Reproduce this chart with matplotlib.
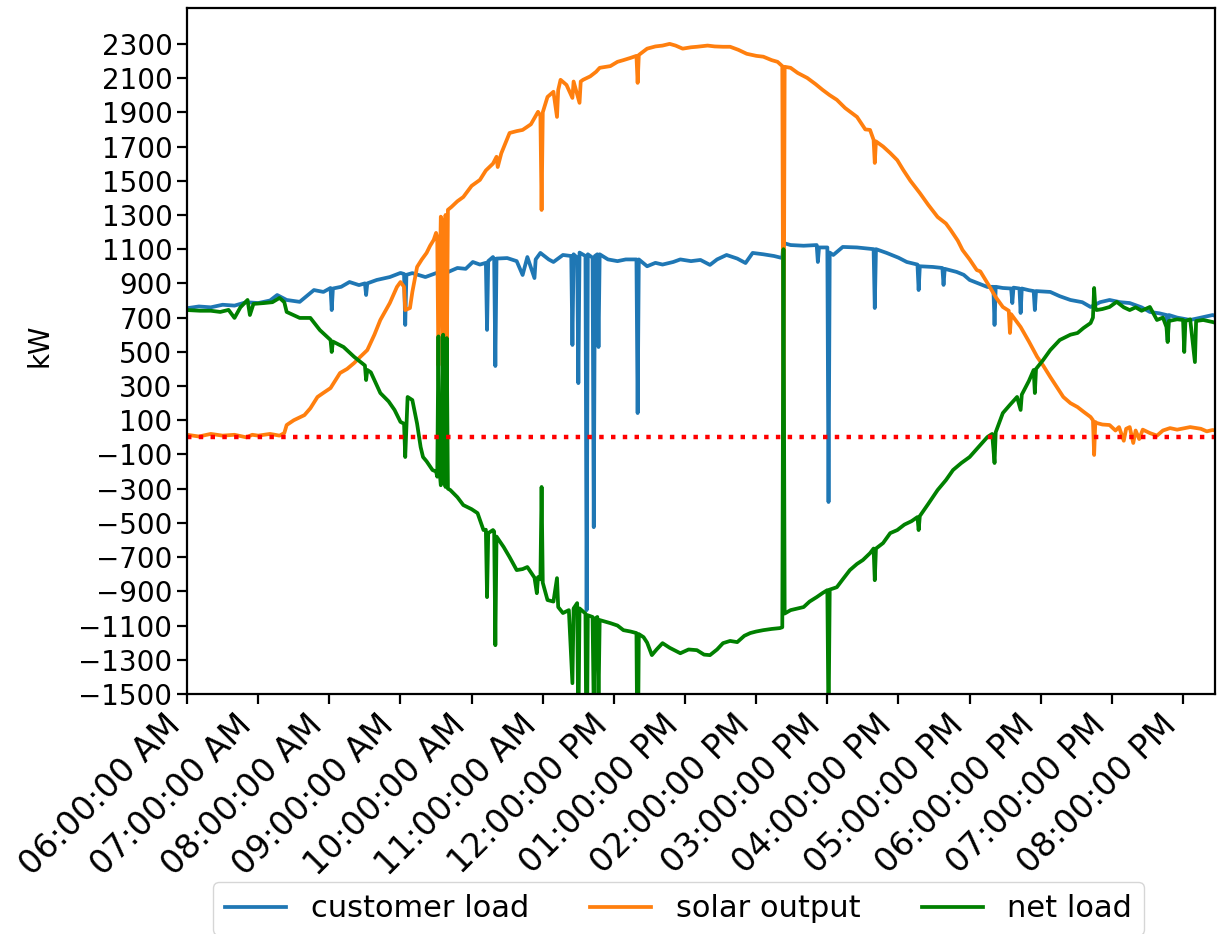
import datetime as dt
import matplotlib
matplotlib.use("Agg")
import matplotlib.pyplot as plt
import matplotlib.dates as mdates

# minutes after 06:00 and kW
load_points = [
    (0, 755), (10, 765), (20, 760), (30, 775), (40, 770), (50, 790), (60, 785), (70, 800),
    (76, 832), (84, 803), (95, 792), (107, 861), (115, 850), (121, 873), (122, 744), (123, 870),
    (130, 880), (137, 908), (145, 890), (150, 900), (151, 832), (152, 900), (160, 920), (171, 937),
    (180, 961), (183, 955), (184, 657), (185, 950), (190, 960), (201, 937), (210, 960), (218, 960),
    (228, 990), (235, 985), (241, 1025), (247, 1010), (252, 1020), (253, 628), (254, 1030),
    (258, 1054), (259, 1040), (260, 417), (261, 1045), (270, 1048), (278, 1030), (283, 949),
    (287, 1054), (293, 931), (294, 1040), (298, 1078), (305, 1040), (309, 1025), (317, 1066),
    (324, 1060), (325, 540), (326, 1070), (329, 1050), (330, 317), (331, 1080), (336, 1060),
    (337, -1010), (338, 1070), (342, 1050), (343, -525), (344, 1060), (346, 1070), (347, 528),
    (348, 1070), (355, 1040), (363, 1030), (370, 1040), (379, 1040), (380, 142), (381, 1040),
    (388, 1000), (395, 1020), (401, 1010), (410, 1025), (416, 1040), (425, 1030), (433, 1037),
    (441, 1008), (447, 1040), (455, 1066), (464, 1045), (471, 1019), (477, 1078), (486, 1070),
    (495, 1060), (502, 1048), (503, 1136), (509, 1124), (520, 1120), (531, 1124), (532, 1025),
    (533, 1110), (540, 1110), (541, -378), (542, 1080), (545, 1066), (553, 1113), (565, 1110),
    (572, 1105), (579, 1100), (580, 756), (581, 1100), (590, 1078), (600, 1050), (607, 1025),
    (616, 1010), (617, 861), (618, 1000), (629, 996), (637, 990), (638, 891), (639, 985),
    (649, 967), (655, 950), (660, 920), (669, 895), (675, 879), (680, 880), (681, 657), (682, 880),
    (688, 873), (695, 870), (696, 785), (697, 875), (702, 870), (703, 727), (704, 870), (710, 860),
    (714, 855), (715, 744), (716, 855), (728, 850), (736, 825), (745, 803), (755, 790), (762, 762),
    (770, 790), (778, 803), (787, 790), (795, 785), (805, 760), (812, 733), (820, 725), (826, 715),
    (827, 569), (828, 715), (835, 700), (846, 686), (855, 700), (865, 715), (867, 710),
]

solar_points = [
    (0, 15), (10, 5), (20, 20), (30, 10), (40, 15), (50, 0), (55, 15), (60, 10), (70, 20), (78, 10),
    (82, 25), (84, 72), (90, 100), (99, 130), (104, 170), (110, 236), (115, 260), (121, 288),
    (129, 376), (135, 400), (141, 435), (146, 470), (152, 510), (158, 600), (163, 686), (171, 785),
    (177, 879), (180, 908), (183, 880), (184, 744), (188, 756), (190, 850), (194, 996), (198, 1040),
    (202, 1078), (205, 1120), (208, 1154), (210, 1195), (211, 1170), (212, 420), (214, 1290),
    (215, 1270), (216, 380), (218, 1300), (219, 350), (220, 1330), (223, 1347), (228, 1380),
    (233, 1405), (240, 1470), (247, 1505), (252, 1560), (258, 1600), (261, 1640), (262, 1580),
    (265, 1660), (272, 1779), (278, 1790), (283, 1797), (290, 1830), (296, 1903), (298, 1880),
    (299, 1329), (300, 1900), (304, 1990), (309, 2020), (312, 1873), (313, 2030), (315, 2090),
    (320, 2060), (325, 1984), (326, 2080), (331, 1955), (332, 2080), (334, 2090), (340, 2110),
    (345, 2137), (348, 2160), (357, 2170), (363, 2195), (368, 2205), (374, 2218), (379, 2230),
    (380, 2072), (381, 2235), (388, 2272), (395, 2285), (401, 2290), (407, 2300), (412, 2290),
    (418, 2272), (425, 2280), (430, 2283), (439, 2290), (445, 2285), (452, 2283), (458, 2283),
    (465, 2265), (472, 2242), (480, 2230), (486, 2225), (493, 2205), (498, 2195), (502, 2170),
    (503, 0), (504, 2166), (509, 2160), (515, 2130), (523, 2101), (530, 2065), (536, 2031),
    (542, 2000), (548, 1973), (555, 1925), (565, 1873), (572, 1800), (576, 1797), (579, 1739),
    (580, 1604), (581, 1730), (587, 1700), (593, 1662), (599, 1620), (604, 1563), (610, 1500),
    (618, 1428), (625, 1360), (633, 1288), (640, 1250), (644, 1212), (650, 1150), (654, 1095),
    (660, 1040), (666, 978), (669, 970), (677, 879), (682, 820), (688, 762), (693, 740), (694, 610),
    (695, 720), (703, 645), (710, 560), (717, 470), (722, 420), (728, 353), (733, 300), (739, 236),
    (745, 200), (751, 177), (756, 150), (762, 119), (764, 100), (765, -103), (766, 90), (767, 84),
    (772, 75), (778, 72), (783, 40), (786, 60), (790, -20), (792, 50), (795, 60), (798, -33),
    (800, 40), (803, -10), (806, 45), (812, 25), (818, 10), (823, 40), (829, 54), (835, 45),
    (846, 60), (855, 50), (860, 35), (865, 43), (867, 40),
]

net_points = [
    (0, 744), (11, 740), (20, 740), (28, 733), (35, 745), (40, 698), (45, 760), (51, 803), (53, 715),
    (56, 780), (65, 785), (72, 790), (78, 815), (82, 790), (84, 733), (95, 698), (104, 698),
    (112, 627), (121, 569), (122, 499), (123, 560), (132, 528), (141, 470), (150, 420), (151, 335),
    (152, 394), (155, 380), (163, 259), (170, 210), (175, 160), (180, 90), (183, 80), (184, -115),
    (186, 236), (190, 218), (194, 80), (197, -57), (199, -115), (202, -140), (207, -191),
    (210, -200), (211, -230), (212, 590), (213, -200), (214, -280), (215, -250), (216, 600),
    (217, -250), (218, -290), (219, 580), (220, -300), (222, -308), (228, -350), (233, -396),
    (240, -420), (245, -443), (250, -542), (252, -540), (253, -934), (254, -560), (258, -542),
    (259, -550), (260, -1215), (261, -580), (267, -641), (272, -700), (278, -776), (283, -770),
    (287, -758), (293, -820), (295, -911), (296, -817), (298, -830), (299, -290), (300, -850),
    (304, -951), (309, -960), (312, -823), (313, -992), (317, -1027), (322, -1010), (325, -1437),
    (326, -1000), (329, -969), (330, -1750), (331, -1000), (336, -1030), (337, -2100),
    (338, -1040), (342, -1050), (343, -1600), (344, -1060), (346, -1050), (347, -1550),
    (348, -1068), (357, -1086), (363, -1100), (368, -1127), (374, -1135), (379, -1144),
    (380, -2100), (381, -1150), (385, -1168), (388, -1200), (392, -1273), (396, -1240),
    (401, -1203), (407, -1230), (416, -1262), (423, -1240), (430, -1244), (436, -1270),
    (441, -1273), (447, -1240), (452, -1203), (458, -1190), (464, -1197), (470, -1160),
    (475, -1144), (480, -1135), (486, -1127), (493, -1120), (500, -1115), (502, -1110),
    (503, 1100), (504, -1030), (509, -1010), (515, -1000), (520, -992), (525, -960), (531, -934),
    (536, -910), (540, -893), (541, -1700), (542, -890), (548, -876), (553, -830), (559, -776),
    (565, -740), (570, -717), (576, -677), (579, -650), (580, -835), (581, -650), (587, -618),
    (593, -560), (599, -542), (605, -510), (611, -490), (616, -466), (617, -542), (618, -460),
    (625, -390), (633, -308), (640, -250), (646, -191), (653, -150), (660, -115), (667, -60),
    (675, 2), (679, 20), (681, -150), (682, 30), (688, 142), (694, 190), (700, 236), (703, 160),
    (704, 250), (710, 330), (714, 394), (715, 259), (716, 400), (722, 452), (728, 510), (736, 569),
    (745, 600), (751, 610), (756, 639), (762, 668), (764, 700), (765, 873), (766, 760), (767, 744),
    (772, 750), (778, 762), (784, 792), (790, 760), (795, 744), (800, 760), (805, 740), (812, 762),
    (818, 686), (823, 700), (826, 645), (827, 557), (828, 680), (835, 690), (840, 686), (841, 499),
    (842, 680), (846, 690), (850, 440), (851, 680), (857, 686), (865, 674), (867, 670),
]

series_labels = ["customer load", "solar output", "net load"]
series_colors = ["tab:blue", "tab:orange", "green"]

START = dt.datetime(2020, 6, 1, 6, 0)


def split_points(points):
    # gjør om (minutter, kW) til tidspunkt og verdier
    tider = [START + dt.timedelta(minutes=m) for m, _ in points]
    verdier = [v for _, v in points]
    return tider, verdier


fig = plt.figure(figsize=(12.25, 9.34), dpi=100)
ax = fig.add_axes([0.1527, 0.2570, 0.8392, 0.7345])

for points, label, color in zip([load_points, solar_points, net_points], series_labels, series_colors):
    x, y = split_points(points)
    ax.plot(x, y, color=color, lw=2.7, label=label)

ax.axhline(0, color="red", linestyle=":", lw=3.2)

ax.set_xlim(START, START + dt.timedelta(minutes=867))
ax.set_ylim(-1500, 2510)
ax.set_yticks(range(-1500, 2301, 200))

ax.xaxis.set_major_locator(mdates.HourLocator(byhour=range(6, 21)))
ax.xaxis.set_major_formatter(mdates.DateFormatter("%I:%M:%S %p"))
plt.setp(ax.get_xticklabels(), rotation=45, ha="right")

ax.tick_params(length=7, width=1.6)
ax.tick_params(axis="y", labelsize=20)
ax.tick_params(axis="x", labelsize=24)
for spine in ax.spines.values():
    spine.set_linewidth(1.6)

ax.set_ylabel("kW", fontsize=20)
ax.yaxis.set_label_coords(-0.13, 0.509)

fig.legend(loc="upper center", bbox_to_anchor=(0.554, 1 - 882 / 934), ncol=3,
           fontsize=22, borderaxespad=0)

fig.savefig("out.png", dpi=100)
